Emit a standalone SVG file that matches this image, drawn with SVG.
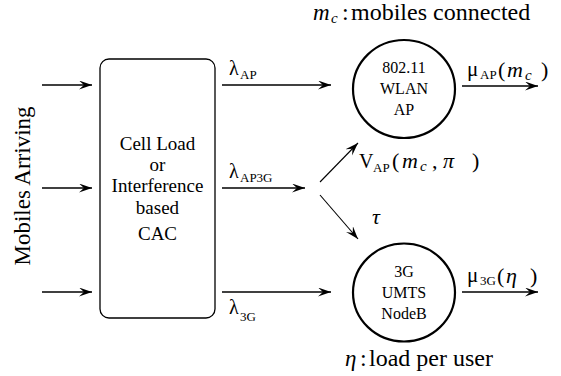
<svg xmlns="http://www.w3.org/2000/svg" width="561" height="376" viewBox="0 0 561 376">
<style>
text{font-family:"Liberation Serif","Times New Roman",serif;fill:#000}
.i{font-style:italic}
.ln{stroke:#000;stroke-width:1.3;fill:none}
.thin{stroke:#000;stroke-width:1.1;fill:none}
.shape{stroke:#000;fill:#fff}
</style>
<defs>
<marker id="ah" markerUnits="userSpaceOnUse" markerWidth="14" markerHeight="10" refX="13" refY="4.5" orient="auto">
<path d="M0,0 L13,4.5 L0,9 L5,4.5 Z" fill="#000"/>
</marker>
</defs>
<rect width="561" height="376" fill="#fff"/>

<g id="connectors">
<line class="ln" x1="42" y1="85" x2="92" y2="85" marker-end="url(#ah)"/>
<line class="ln" x1="42" y1="188" x2="92" y2="188" marker-end="url(#ah)"/>
<line class="ln" x1="42" y1="292" x2="92" y2="292" marker-end="url(#ah)"/>
<line class="ln" x1="222" y1="85" x2="331" y2="85" marker-end="url(#ah)"/>
<line class="ln" x1="222" y1="188" x2="305" y2="188" marker-end="url(#ah)"/>
<line class="ln" x1="222" y1="292" x2="331" y2="292" marker-end="url(#ah)"/>
<line class="thin" x1="320" y1="182" x2="358" y2="143" marker-end="url(#ah)"/>
<line class="thin" x1="320" y1="195" x2="358" y2="239" marker-end="url(#ah)"/>
<line class="ln" x1="462" y1="86" x2="538" y2="86" marker-end="url(#ah)"/>
<line class="ln" x1="462" y1="292" x2="538" y2="292" marker-end="url(#ah)"/>
</g>

<g id="arriving">
<text font-size="23" text-anchor="middle" transform="translate(30,186) rotate(-90)">Mobiles Arriving</text>
</g>

<g id="cac">
<rect class="shape" x="100" y="59" width="115" height="259" rx="9" stroke-width="1.3"/>
<g font-size="19" text-anchor="middle">
<text x="157.5" y="150">Cell Load</text>
<text x="157.5" y="171">or</text>
<text x="157.5" y="192">Interference</text>
<text x="157.5" y="214">based</text>
<text x="157.5" y="240">CAC</text>
</g>
</g>

<g id="ap">
<ellipse class="shape" cx="404" cy="89" rx="51" ry="49" stroke-width="2.2"/>
<g font-size="16" text-anchor="middle">
<text x="404" y="73">802.11</text>
<text x="404" y="94">WLAN</text>
<text x="404" y="115">AP</text>
</g>
</g>

<g id="nodeb">
<ellipse class="shape" cx="404" cy="292.5" rx="51" ry="49" stroke-width="2.2"/>
<g font-size="16" text-anchor="middle">
<text x="404" y="277">3G</text>
<text x="404" y="298">UMTS</text>
<text x="404" y="319">NodeB</text>
</g>
</g>

<g id="labels">
<text class="i" x="313" y="20" font-size="23">m</text>
<text class="i" x="331" y="23" font-size="15">c</text>
<text x="342" y="20" font-size="24">:</text>
<text x="351" y="20" font-size="24">mobiles connected</text>

<text class="i" x="345" y="366" font-size="23">η</text>
<text x="360" y="366" font-size="24">:</text>
<text x="369" y="366" font-size="24">load per user</text>

<text x="229" y="75" font-size="20">λ</text>
<text x="240" y="79" font-size="13">AP</text>
<text x="229" y="178" font-size="20">λ</text>
<text x="240" y="182" font-size="13">AP3G</text>
<text x="229" y="314" font-size="20">λ</text>
<text x="240" y="321" font-size="13">3G</text>

<text x="359" y="168" font-size="20">V</text>
<text x="373" y="172" font-size="13">AP</text>
<text x="392" y="168" font-size="22">(</text>
<text class="i" x="402" y="168" font-size="22">m</text>
<text class="i" x="420" y="171" font-size="15">c</text>
<text x="432" y="168" font-size="22">,</text>
<text class="i" x="443" y="168" font-size="22">π</text>
<text x="472" y="168" font-size="22">)</text>

<text class="i" x="372" y="224" font-size="22">τ</text>

<text x="467" y="76" font-size="21">μ</text>
<text x="480" y="79" font-size="13">AP</text>
<text x="498" y="77" font-size="22">(</text>
<text class="i" x="507" y="77" font-size="22">m</text>
<text class="i" x="525" y="80" font-size="15">c</text>
<text x="541" y="77" font-size="22">)</text>

<text x="467" y="282" font-size="21">μ</text>
<text x="480" y="285" font-size="13">3G</text>
<text x="497" y="283" font-size="22">(</text>
<text class="i" x="506" y="283" font-size="22">η</text>
<text x="530" y="283" font-size="22">)</text>
</g>
</svg>
